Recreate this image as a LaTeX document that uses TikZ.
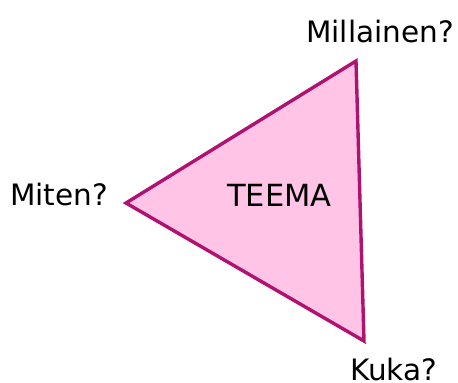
\documentclass[tikz,border=0pt]{standalone}
\usepackage{fontspec}
\setmainfont{DejaVu Sans}
\usepackage{xcolor}
\usepackage{tikz}
\usetikzlibrary{positioning}
\definecolor{TM_LINE}{HTML}{B0126F}
\definecolor{TM_FILL}{HTML}{FFC4E6}
\tikzset{
  lbl/.style={inner sep=0pt, font=\fontsize{29.5}{34}\selectfont, text=black},
  tri/.style={draw=TM_LINE, fill=TM_FILL, line width=3.4pt, line join=miter},
}
\begin{document}
\begin{tikzpicture}[x=1pt, y=-1pt]
  \useasboundingbox (0,0) rectangle (458,383);

  % triangle corners
  \coordinate (top)  at (356,61);
  \coordinate (left) at (126,203);
  \coordinate (bot)  at (364,341);

  \draw[tri] (top) -- (left) -- (bot) -- cycle;

  \node[lbl, anchor=base west] (millainen) at (306,42)  {Millainen?};
  \node[lbl, anchor=base west] (miten)     at (10,205)  {Miten?};
  \node[lbl, anchor=base west] (kuka)      at (350,380) {Kuka?};
  \node[lbl, anchor=base west, font=\fontsize{30.5}{34}\selectfont] (teema) at (227,206) {TEEMA};

\end{tikzpicture}
\end{document}
